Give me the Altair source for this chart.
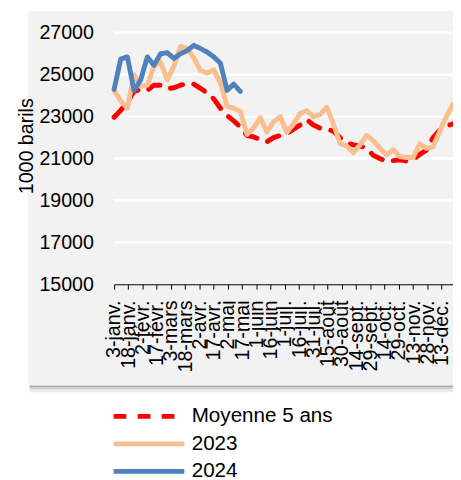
import json
import altair as alt
import pandas as pd

# ---------------- data ----------------
series_names = ["Moyenne 5 ans", "2023", "2024"]
series_colors = ["#FF0000", "#F9BF8F", "#4F81BD"]

moyenne_5_ans = [22970, 23300, 23700, 24200, 24300, 24250, 24500, 24500, 24330, 24380,
                 24500, 24580, 24550, 24350, 24130, 23850, 23400, 23050, 22800, 22500,
                 22100, 22030, 21900, 21800, 22000, 22100, 22180, 22400, 22600, 22850,
                 22600, 22450, 22420, 22300, 22000, 21750, 21650, 21600, 21500, 21150,
                 21000, 20870, 20900, 20940, 20880, 20950, 21200, 21400, 22000, 22350,
                 22550, 22650]
annee_2023 = [24250, 23750, 23400, 25000, 24450, 24500, 25400, 25600, 24750, 25400,
              26350, 26250, 25800, 25200, 25080, 25230, 24600, 23500, 23400, 23250,
              22150, 22450, 22950, 22270, 22750, 23000, 22250, 22650, 23150, 23280,
              23000, 23100, 23450, 22650, 21720, 21600, 21280, 21650, 22100, 21850,
              21500, 21170, 21420, 21090, 21050, 21050, 21700, 21480, 21560, 22300,
              23000, 23600]
annee_2024 = [24300, 25750, 25850, 24250, 24750, 25850, 25450, 26000, 26050, 25780,
              26000, 26150, 26400, 26250, 26080, 25850, 25550, 24250, 24550, 24200]

tick_labels = ["3-janv.", "18-janv.", "2-févr.", "17-févr.", "3-mars", "18-mars",
               "2-avr.", "17-avr.", "2-mai", "17-mai", "1-juin", "16-juin",
               "1-juil.", "16-juil.", "31-juil.", "15-août", "30-août", "14-sept.",
               "29-sept.", "14-oct.", "29-oct.", "13-nov.", "28-nov.", "13-déc."]
y_ticks = [15000, 17000, 19000, 21000, 23000, 25000, 27000]

first_day = 3        # day of year of first weekly point / first label
week_days = 7
label_days = 15

# ---------------- build table ----------------
rows = []
for name, vals in zip(series_names, [moyenne_5_ans, annee_2023, annee_2024]):
    for i, v in enumerate(vals):
        rows.append({"day": first_day + week_days * i, "value": v, "series": name})
df = pd.DataFrame(rows)
last_day = first_day + week_days * (len(moyenne_5_ans) - 1)

tick_values = [first_day + label_days * k for k in range(len(tick_labels))]
label_expr = f"{json.dumps(tick_labels)}[round((datum.value - {first_day}) / {label_days})]"

FONT = "Liberation Sans"
W, H = 345, 256

x_scale = alt.Scale(domain=[first_day, last_day], nice=False, zero=False)
y_scale = alt.Scale(domain=[y_ticks[0], y_ticks[-1]], nice=False, zero=False)

y_axis = alt.Axis(
    values=y_ticks, format="d", grid=False, domain=False, ticks=False,
    labelFont=FONT, labelFontSize=20, labelColor="black", labelPadding=21,
    title="1000 barils", titleFont=FONT, titleFontSize=20, titleFontWeight="normal",
    titleColor="black", titleAngle=270, titleX=-83, titleY=115,
    titleAlign="center", titleBaseline="alphabetic", zindex=1)

# ---------------- background panel ----------------
one = alt.Data(values=[{"a": 1}])
panel = alt.Chart(one).mark_rect(color="#F2F2F2").encode(
    x=alt.value(-88), x2=alt.value(W), y=alt.value(-22), y2=alt.value(359))
shadow1 = alt.Chart(one).mark_rect(color="#ABABAB").encode(
    x=alt.value(-86), x2=alt.value(W), y=alt.value(359), y2=alt.value(361))
shadow2 = alt.Chart(one).mark_rect(color="#CDCDCD").encode(
    x=alt.value(-86), x2=alt.value(W), y=alt.value(361), y2=alt.value(363))
shadow3 = alt.Chart(one).mark_rect(color="#EBEBEB").encode(
    x=alt.value(-86), x2=alt.value(W), y=alt.value(363), y2=alt.value(366))

grid = alt.Chart(pd.DataFrame({"value": y_ticks[1:]})).mark_rule(
    color="white", strokeWidth=2.5).encode(
    y=alt.Y("value:Q", scale=y_scale, axis=y_axis),
    x=alt.value(0), x2=alt.value(W))

# wide horizontal line symbol: path scaled by sqrt(size)/2 -> 6*12 = 72 px long
legend = alt.Legend(
    orient="none", legendX=21, legendY=376, title=None, padding=0,
    symbolType="M-3,0H3", symbolSize=576, symbolStrokeWidth=5,
    labelFont=FONT, labelFontSize=21, labelColor="black", labelOffset=29,
    rowPadding=3, direction="vertical",
)

lines = alt.Chart(df).mark_line(strokeWidth=5, strokeJoin="round", strokeCap="round").encode(
    x=alt.X("day:Q", scale=x_scale, axis=alt.Axis(
        values=tick_values, labelExpr=label_expr, labelAngle=270, labelAlign="right",
        labelBaseline="middle", labelOverlap=False, labelFlush=False, labelBound=False,
        labelFont=FONT, labelFontSize=20, labelColor="black", labelPadding=11,
        tickSize=5, tickColor="black", tickWidth=1, domainColor="black", domainWidth=1,
        grid=False, title=None, zindex=1)),
    y=alt.Y("value:Q", scale=y_scale, axis=y_axis),
    color=alt.Color("series:N", scale=alt.Scale(domain=series_names, range=series_colors),
                    sort=series_names, legend=legend),
    strokeDash=alt.StrokeDash("series:N", scale=alt.Scale(
        domain=series_names, range=[[13, 11.5], [1, 0], [1, 0]]),
        sort=series_names, legend=legend),
    order=alt.Order("day:Q"),
)

chart = alt.layer(panel, shadow1, shadow2, shadow3, grid, lines).properties(
    width=W, height=H,
    autosize=alt.AutoSizeParams(type="none"),
    padding={"left": 108, "top": 21, "right": 0, "bottom": 195},
    background="white",
).configure_view(strokeOpacity=0)

chart.save("out.html", embed_options={"renderer": "svg", "actions": False})
